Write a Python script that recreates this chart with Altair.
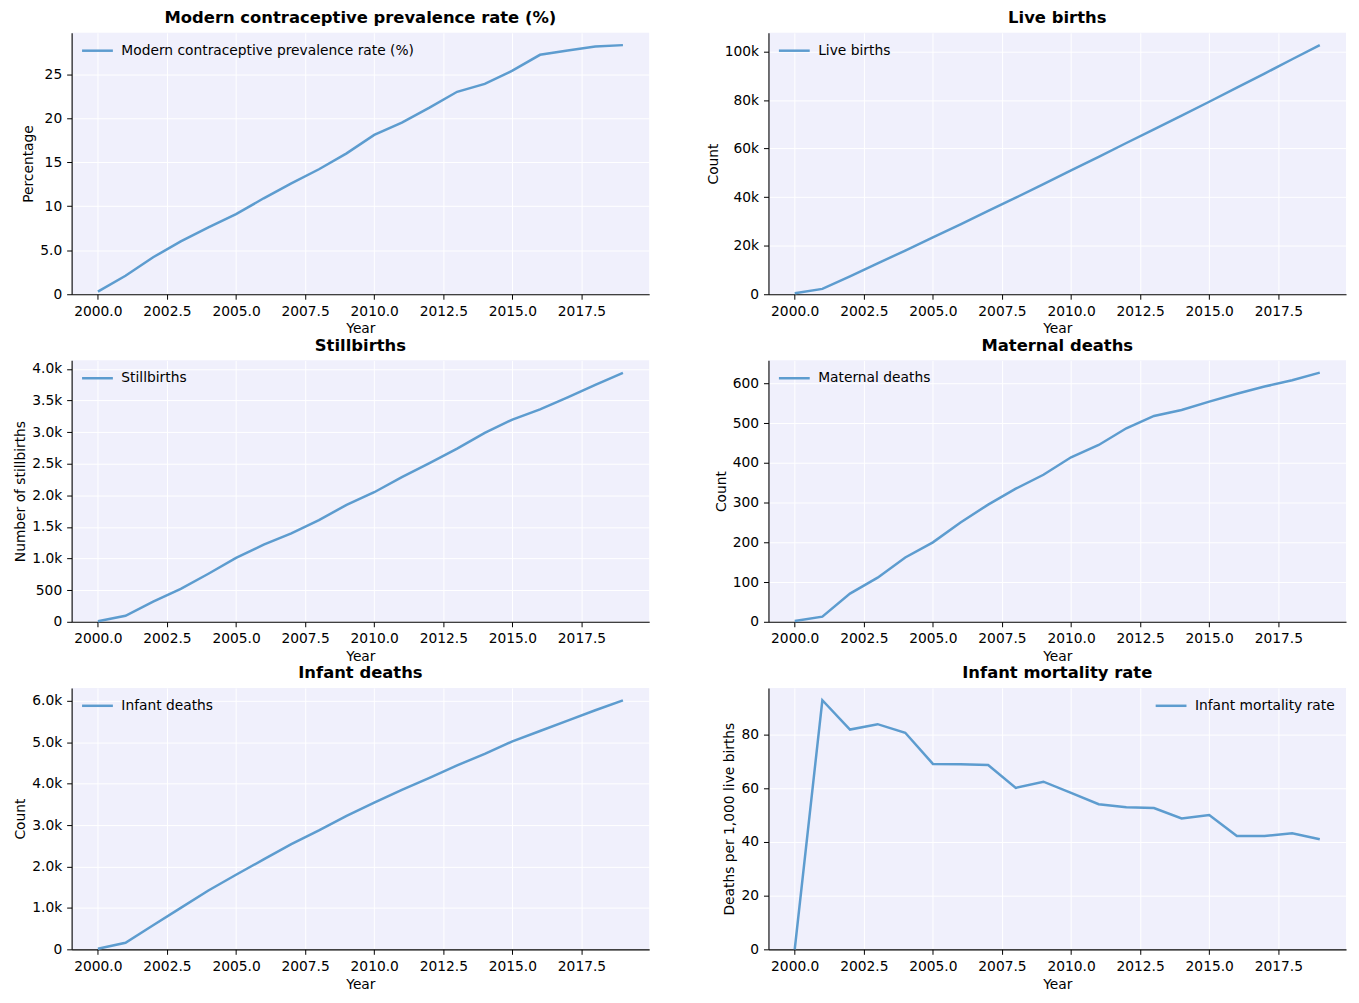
import altair as alt
import pandas as pd

years = list(range(2000, 2020))

mcpr = [0.3, 2.1, 4.2, 6.0, 7.6, 9.1, 10.9, 12.6, 14.2, 16.0, 18.1, 19.5, 21.2, 23.0, 23.9, 25.4, 27.2, 27.7, 28.15, 28.3]
live_births = [400, 2200, 7400, 12700, 18000, 23400, 28800, 34300, 39800, 45400, 51000, 56600, 62300,
               67900, 73600, 79300, 85100, 90900, 96800, 102600]
stillbirths = [10, 95, 320, 520, 760, 1010, 1220, 1400, 1610, 1850, 2050, 2290, 2510, 2740, 2990, 3200,
               3360, 3550, 3750, 3940]
maternal_deaths = [2, 13, 71, 111, 162, 200, 250, 295, 335, 370, 414, 445, 487, 518, 533, 554, 574, 592, 608, 627]
infant_deaths = [15, 160, 580, 1000, 1420, 1800, 2170, 2540, 2870, 3220, 3540, 3850, 4140, 4440, 4720, 5020,
                 5270, 5520, 5770, 6010]
imr = [0.0, 92.7, 81.8, 83.8, 80.6, 69.0, 68.9, 68.6, 60.1, 62.4, 58.2, 54.0, 52.9, 52.6, 48.7, 50.0,
       42.2, 42.2, 43.2, 41.0]

x_ticks = [2000, 2002.5, 2005, 2007.5, 2010, 2012.5, 2015, 2017.5]

LINE = "#5d9ccf"
FONT = "DejaVu Sans"


def panel(name, values, ytitle, ydomain, yticks, label_expr, legend_x):
    df = pd.DataFrame({"Year": years, "Value": values, "Series": name})
    return alt.Chart(df).mark_line(strokeWidth=2.5).encode(
        x=alt.X("Year:Q",
                scale=alt.Scale(domain=[1999.05, 2019.95], nice=False, zero=False),
                axis=alt.Axis(values=x_ticks, format=".1f", title="Year")),
        y=alt.Y("Value:Q",
                scale=alt.Scale(domain=ydomain, nice=False, zero=False),
                axis=alt.Axis(values=yticks, labelExpr=label_expr, title=ytitle)),
        color=alt.Color("Series:N",
                        scale=alt.Scale(domain=[name], range=[LINE]),
                        legend=alt.Legend(title=None, orient="none", legendX=legend_x, legendY=1,
                                          symbolType="stroke", symbolSize=961, symbolStrokeWidth=2.5,
                                          labelFontSize=13.9, labelFont=FONT, labelColor="#000000",
                                          labelOffset=7, padding=0, labelLimit=0)),
    ).properties(
        width=581, height=263,
        title=alt.TitleParams(name, fontSize=16.5, font=FONT, fontWeight="bold", anchor="middle", offset=6),
    )


p1 = panel("Modern contraceptive prevalence rate (%)", mcpr, "Percentage", [0, 29.7],
           [0, 5, 10, 15, 20, 25], "datum.value == 5 ? '5.0' : format(datum.value, 'd')", 9)
p2 = panel("Live births", live_births, "Count", [0, 107700],
           [0, 20000, 40000, 60000, 80000, 100000],
           "datum.value == 0 ? '0' : format(datum.value / 1000, 'd') + 'k'", 9)
p3 = panel("Stillbirths", stillbirths, "Number of stillbirths", [0, 4137],
           [0, 500, 1000, 1500, 2000, 2500, 3000, 3500, 4000],
           "datum.value < 1000 ? format(datum.value, 'd') : format(datum.value / 1000, '.1f') + 'k'", 9)
p4 = panel("Maternal deaths", maternal_deaths, "Count", [0, 658],
           [0, 100, 200, 300, 400, 500, 600], "format(datum.value, 'd')", 9)
p5 = panel("Infant deaths", infant_deaths, "Count", [0, 6310],
           [0, 1000, 2000, 3000, 4000, 5000, 6000],
           "datum.value == 0 ? '0' : format(datum.value / 1000, '.1f') + 'k'", 9)
p6 = panel("Infant mortality rate", imr, "Deaths per 1,000 live births", [0, 97.3],
           [0, 20, 40, 60, 80], "format(datum.value, 'd')", 388)

chart = alt.concat(p1, p2, p3, p4, p5, p6, columns=2, spacing={"row": 1.5, "column": 57}).resolve_scale(
    color="independent"
).resolve_legend(
    color="independent"
).properties(
    padding={"top": -1, "left": 5, "right": 5, "bottom": 5}
).configure(
    background="#ffffff"
).configure_view(
    fill="#f0f0fc", stroke=None
).configure_axis(
    grid=True, gridColor="#ffffff", gridWidth=1,
    domainColor="#000000", domainWidth=1.1,
    tickColor="#000000", tickSize=5, tickWidth=1,
    labelFont=FONT, labelFontSize=13.9, labelColor="#000000", labelPadding=5,
    titleFont=FONT, titleFontSize=13.9, titleFontWeight="normal", titleColor="#000000", titlePadding=4,
    labelFlush=False,
)

chart.save("out.html", embed_options={"renderer": "svg", "actions": False})
